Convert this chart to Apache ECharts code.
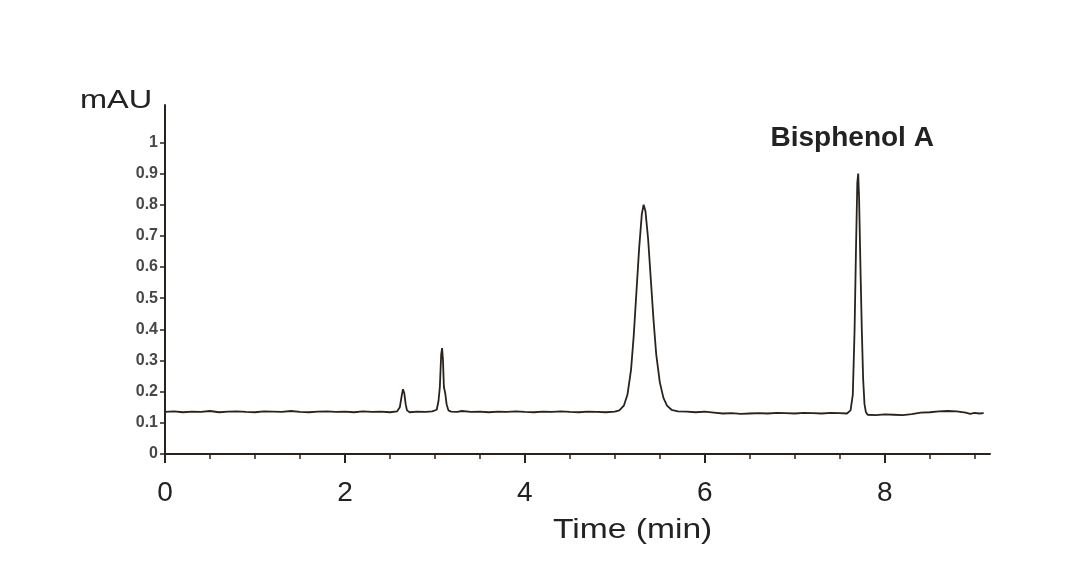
<!DOCTYPE html>
<html>
<head>
<meta charset="utf-8">
<script src="https://cdn.jsdelivr.net/npm/echarts@6/dist/echarts.min.js"></script>
<style>html,body{margin:0;padding:0;background:#fff}#c{width:1073px;height:585px}</style>
</head>
<body>
<div id="c"></div>
<script>
const times = [0.00,0.10,0.20,0.30,0.40,0.50,0.60,0.70,0.80,0.90,1.00,1.10,1.20,1.30,1.40,1.50,1.60,1.70,1.80,1.90,2.00,2.10,2.20,2.30,2.40,2.50,2.58,2.61,2.63,2.645,2.66,2.675,2.69,2.72,2.80,2.90,2.97,3.02,3.04,3.055,3.07,3.08,3.09,3.10,3.115,3.13,3.15,3.18,3.25,3.30,3.40,3.50,3.60,3.70,3.80,3.90,4.00,4.10,4.20,4.30,4.40,4.50,4.60,4.70,4.80,4.90,5.00,5.05,5.10,5.14,5.18,5.21,5.24,5.27,5.30,5.32,5.34,5.37,5.40,5.43,5.46,5.50,5.54,5.58,5.63,5.70,5.80,5.90,6.00,6.10,6.20,6.30,6.40,6.50,6.60,6.70,6.80,6.90,7.00,7.10,7.20,7.30,7.40,7.50,7.58,7.62,7.645,7.665,7.68,7.695,7.705,7.715,7.73,7.745,7.76,7.775,7.79,7.81,7.90,8.00,8.10,8.20,8.30,8.40,8.50,8.60,8.70,8.80,8.90,8.95,9.00,9.05,9.10];
const signal = [0.135,0.137,0.134,0.136,0.135,0.138,0.134,0.136,0.137,0.135,0.134,0.137,0.136,0.135,0.138,0.135,0.134,0.136,0.137,0.135,0.136,0.134,0.137,0.135,0.136,0.134,0.137,0.150,0.185,0.208,0.195,0.160,0.140,0.134,0.136,0.135,0.137,0.142,0.170,0.215,0.320,0.340,0.300,0.215,0.195,0.160,0.140,0.136,0.135,0.138,0.135,0.136,0.134,0.136,0.135,0.137,0.135,0.134,0.136,0.135,0.137,0.135,0.134,0.136,0.135,0.134,0.136,0.140,0.155,0.190,0.270,0.380,0.520,0.660,0.770,0.800,0.780,0.690,0.560,0.430,0.320,0.230,0.180,0.155,0.142,0.137,0.136,0.134,0.136,0.133,0.130,0.131,0.129,0.130,0.131,0.130,0.132,0.131,0.130,0.132,0.131,0.130,0.132,0.131,0.130,0.140,0.190,0.400,0.650,0.870,0.900,0.820,0.600,0.400,0.240,0.160,0.135,0.126,0.125,0.127,0.126,0.125,0.128,0.133,0.134,0.137,0.138,0.137,0.133,0.129,0.132,0.130,0.131];
const xTickLabels = [0,2,4,6,8];
const xMinorTicks = [0.5,1,1.5,2.5,3,3.5,4.5,5,5.5,6.5,7,7.5,8.5,9];
const yTickLabels = [0,0.1,0.2,0.3,0.4,0.5,0.6,0.7,0.8,0.9,1];
const peakName = 'Bisphenol A';
const peakAt = [7.705, 0.900];
const yName = 'mAU';
const xName = 'Time (min)';

const ink = '#2a231d';
const font = 'Liberation Sans, Arial, sans-serif';
const chart = echarts.init(document.getElementById('c'));
chart.setOption({
  backgroundColor: '#fff',
  animation: false,
  grid: {left: 165, right: 83, top: 105, bottom: 131, containLabel: false},
  xAxis: [{
    type: 'value', min: 0, max: 9.17, position: 'bottom',
    axisLine: {show: true, onZero: false, lineStyle: {color: ink, width: 2}},
    axisTick: {show: true, customValues: xTickLabels, length: 9, inside: false, lineStyle: {color: ink, width: 2}},
    axisLabel: {show: true, customValues: xTickLabels, fontSize: 28, color: '#222', fontFamily: font, margin: 25},
    splitLine: {show: false}
  }, {
    type: 'value', min: 0, max: 9.17, position: 'bottom',
    axisLine: {show: false},
    axisTick: {show: true, customValues: xMinorTicks, length: 5, lineStyle: {color: ink, width: 1.5}},
    axisLabel: {show: false},
    splitLine: {show: false}
  }],
  yAxis: {
    type: 'value', min: 0, max: 1.12,
    axisLine: {show: true, onZero: false, lineStyle: {color: ink, width: 2}},
    axisTick: {show: true, customValues: yTickLabels, length: 5, lineStyle: {color: ink, width: 1.5}},
    axisLabel: {show: true, customValues: yTickLabels, fontSize: 16, fontWeight: 'bold', color: '#474747', fontFamily: font, margin: 7},
    splitLine: {show: false}
  },
  graphic: [{
    type: 'text', left: 80, top: 89, scaleX: 1.3, scaleY: 1,
    style: {text: yName, fontSize: 25, fill: '#222', fontFamily: font}
  }, {
    type: 'text', left: 553, top: 516, scaleX: 1.2, scaleY: 1,
    style: {text: xName, fontSize: 28, fill: '#222', fontFamily: font}
  }],
  series: [{
    type: 'line', showSymbol: false, smooth: false,
    data: times.map((t, i) => [t, signal[i]]),
    lineStyle: {color: ink, width: 1.8},
    markPoint: {
      symbol: 'circle', symbolSize: 0,
      data: [{coord: peakAt}],
      label: {show: true, formatter: peakName, position: 'top', offset: [-6, -16], fontSize: 28, fontWeight: 'bold', color: '#222', fontFamily: font}
    }
  }]
});
</script>
</body>
</html>
